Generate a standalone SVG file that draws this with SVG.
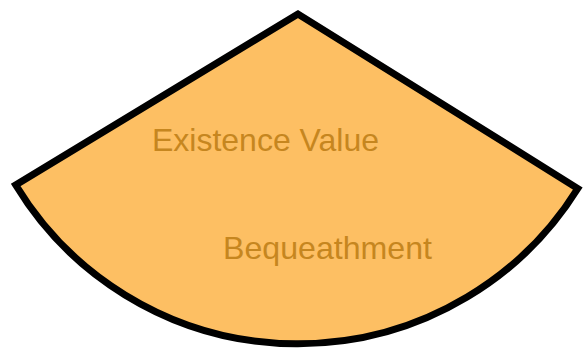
<svg xmlns="http://www.w3.org/2000/svg" width="586" height="352" viewBox="0 0 586 352">
<style>
.wedge{fill:#FDBF63;stroke:#000;stroke-width:7;stroke-linejoin:miter;stroke-miterlimit:10}
.lbl{font-family:"Liberation Sans",Arial,sans-serif;font-size:32px;fill:#C6861F}
</style>
<rect width="586" height="352" fill="#fff"/>
<g id="sector">
<path class="wedge" d="M298,14 L15.7,185 A330,330 0 0 0 577.8,188.5 Z"/>
<text class="lbl" x="152" y="151" textLength="227" lengthAdjust="spacingAndGlyphs">Existence Value</text>
<text class="lbl" x="223" y="259" textLength="209" lengthAdjust="spacingAndGlyphs">Bequeathment</text>
</g>
</svg>
